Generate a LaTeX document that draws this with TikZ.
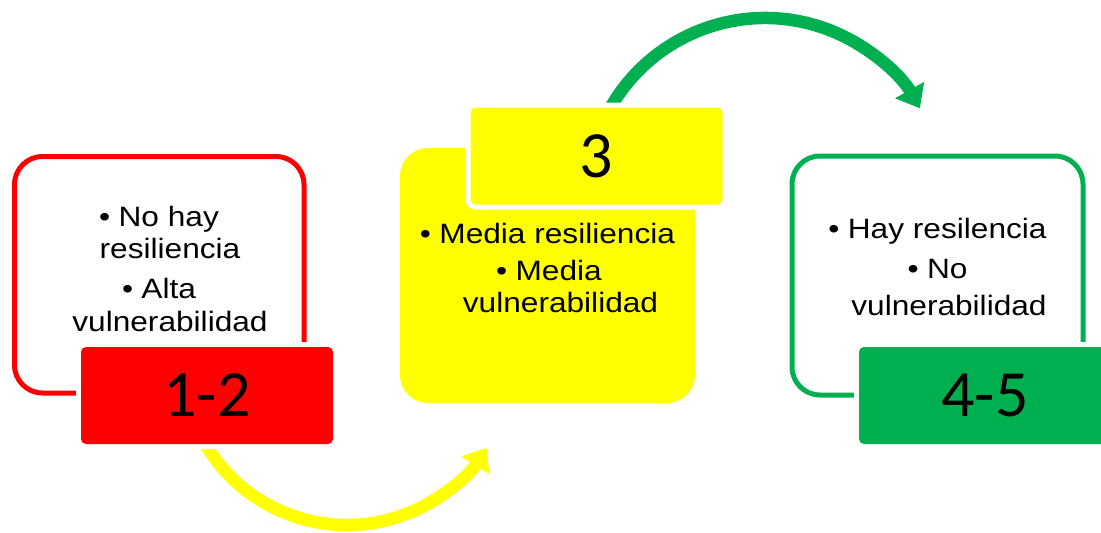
\documentclass[tikz,border=0pt]{standalone}
\usepackage{fontspec}
\setmainfont{Liberation Sans}
\newfontfamily\bodyf[FakeStretch=1.13]{Liberation Sans}
\newfontfamily\numf{Carlito}
\usetikzlibrary{arrows.meta}
\definecolor{pgreen}{HTML}{00B050}
\definecolor{pred}{HTML}{FF0000}
\definecolor{pyellow}{HTML}{FFFF00}
\begin{document}
\begin{tikzpicture}[x=1pt,y=1pt,
  outlinebox/.style={draw=#1, line width=5pt, rounded corners=28pt, inner sep=0pt},
  numbox/.style={fill=#1, rounded corners=5pt, minimum width=252pt, minimum height=97pt,
    inner sep=0pt, font=\numf\fontsize{66}{70}\selectfont, text=black,
    preaction={draw=white, line width=10pt}},
  bodytext/.style={anchor=base, inner sep=0pt, font=\bodyf\fontsize{28}{33}\selectfont},
  arcarrow/.style={draw=#1, line width=12.5pt, -{Triangle[length=21pt,width=32pt]}}
]
\useasboundingbox (0,0) rectangle (1101,-533);
% arrows (drawn first, under boxes)
\coordinate (ystart) at ({347+164.5*cos(205)},{-360.5+164.5*sin(205)});
\draw[arcarrow=pyellow] (ystart) arc[start angle=205, end angle=328, radius=164.5];
\coordinate (gstart) at ({765+178*cos(155)},{-196+178*sin(155)});
\draw[arcarrow=pgreen] (gstart) arc[start angle=155, end angle=29.5, radius=178];

% outline boxes
\node[outlinebox=pred, minimum width=289.5pt, minimum height=236.5pt] (redbox) at (159.25,-274.75) {};
\node[outlinebox=pgreen, minimum width=291pt, minimum height=239pt] (greenbox) at (937.5,-275.5) {};
% yellow box
\node[fill=pyellow, rounded corners=28pt, minimum width=295pt, minimum height=255pt, inner sep=0pt] (yellowbox) at (547.5,-275.5) {};

% number boxes
\node[numbox=pred] (rednum) at (207,-395.5) {1-2};
\node[numbox=pyellow] (yellownum) at (596.5,-156) {3};
\node[numbox=pgreen] (greennum) at (985,-395.5) {4-5};

% texts
\node[bodytext] (r1) at (159,-226) {•\hspace{0.3em}No hay};
\node[bodytext] (r2) at (170,-258) {resiliencia};
\node[bodytext] (r3) at (159,-298) {•\hspace{0.3em}Alta};
\node[bodytext] (r4) at (170,-331) {vulnerabilidad};

\node[bodytext] (y1) at (547.5,-243) {•\hspace{0.3em}Media resiliencia};
\node[bodytext] (y2) at (549,-280) {•\hspace{0.3em}Media};
\node[bodytext] (y3) at (560.5,-312) {vulnerabilidad};

\node[bodytext] (g1) at (937.5,-238) {•\hspace{0.3em}Hay resilencia};
\node[bodytext] (g2) at (937.5,-278) {•\hspace{0.3em}No};
\node[bodytext] (g3) at (949,-315) {vulnerabilidad};
\end{tikzpicture}
\end{document}
